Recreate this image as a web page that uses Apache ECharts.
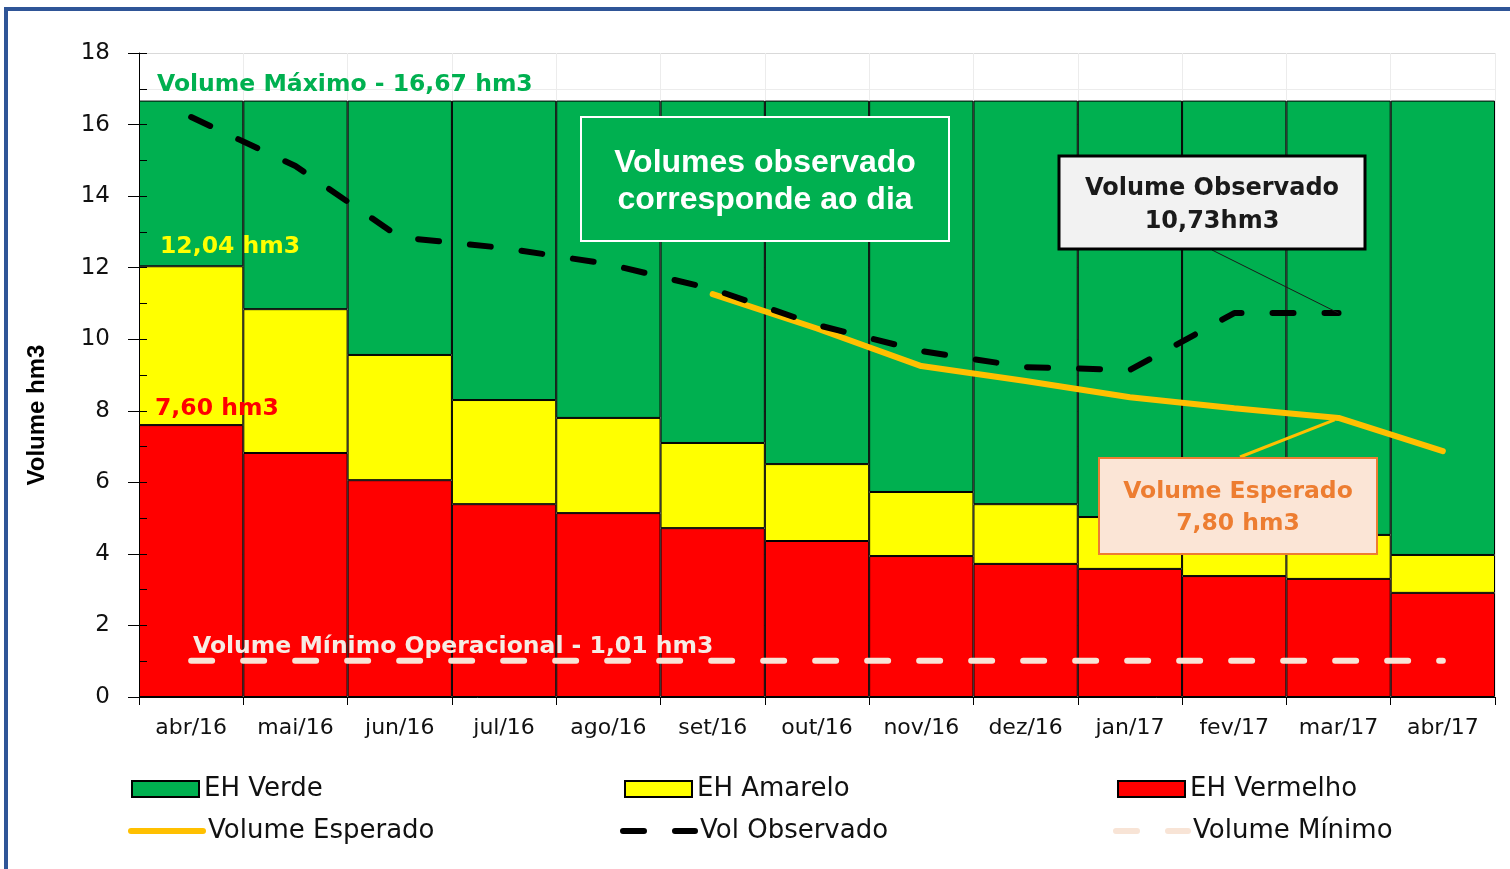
<!DOCTYPE html>
<html>
<head>
<meta charset="utf-8">
<title>Volume hm3</title>
<script src="https://cdn.jsdelivr.net/npm/echarts@6/dist/echarts.min.js"></script>
<style>
  html, body { margin: 0; padding: 0; background: #fff; }
  #main { width: 1510px; height: 869px; }
</style>
</head>
<body>
<div id="main"></div>
<script>
// meses do período
const months = ['abr/16', 'mai/16', 'jun/16', 'jul/16', 'ago/16', 'set/16', 'out/16',
  'nov/16', 'dez/16', 'jan/17', 'fev/17', 'mar/17', 'abr/17'];

// limites das faixas (topo de cada faixa, hm3)
const volumeMaximo = 16.67;
const volumeMinimo = 1.01;
const limiteVermelho = [7.60, 6.82, 6.06, 5.39, 5.14, 4.72, 4.36, 3.94, 3.72, 3.58, 3.38, 3.30, 2.91];
const limiteAmarelo = [12.04, 10.84, 9.56, 8.30, 7.80, 7.10, 6.51, 5.73, 5.39, 5.03, 4.78, 4.53, 3.97];

// volumes
const volObservado = [16.21, 14.84, 12.85, 12.55, 12.10, 11.40, 10.40, 9.67, 9.22, 9.14, 10.73, 10.73, null];
const volEsperado = [null, null, null, null, null, 11.26, 10.30, 9.25, 8.83, 8.38, 8.07, 7.80, 6.87];

// eixo y
const yMin = 0;
const yMax = 18;
const yStep = 2;

const dejavu = '"DejaVu Sans", Verdana, sans-serif';
const tracejado = [21, 31];

// faixas empilhadas
const faixaVermelho = limiteVermelho.slice();
const faixaAmarelo = limiteAmarelo.map((v, i) => +(v - limiteVermelho[i]).toFixed(2));
const faixaVerde = limiteAmarelo.map(v => +(volumeMaximo - v).toFixed(2));
const linhaMinimo = months.map(() => volumeMinimo);

var myChart = echarts.init(document.getElementById('main'));

function legendItem(name, left, top, line) {
  let lg = {
    data: [name],
    left: left,
    top: top,
    padding: 0,
    selectedMode: false,
    itemWidth: line ? 72 : 67,
    itemHeight: 16,
    textStyle: { fontFamily: dejavu, fontSize: 26, color: '#111', lineHeight: 26 }
  };
  if (line) {
    // só a linha, sem o símbolo
    lg.itemStyle = { opacity: 0 };
    lg.lineStyle = Object.assign({ width: 6, cap: 'round' }, line);
  } else {
    lg.icon = 'rect';
  }
  return lg;
}

let options = {
  animation: false,
  grid: { left: 139, right: 15, top: 53, bottom: 172 },
  legend: [
    legendItem('EH Verde', 131, 776),
    legendItem('EH Amarelo', 624, 776),
    legendItem('EH Vermelho', 1117, 776),
    legendItem('Volume Esperado', 128, 818, { type: 'solid' }),
    legendItem('Vol Observado', 620, 818, { type: tracejado }),
    legendItem('Volume Mínimo', 1113, 818, { type: tracejado })
  ],
  xAxis: {
    type: 'category',
    data: months,
    axisLine: { lineStyle: { color: '#000', width: 1 } },
    axisTick: { show: true, length: 8, lineStyle: { color: '#000' } },
    axisLabel: { fontFamily: dejavu, fontSize: 22, color: '#111', margin: 20 },
    splitLine: { show: true, lineStyle: { color: '#ececec', width: 1 } }
  },
  yAxis: [
    {
      type: 'value',
      position: 'left',
      min: yMin,
      max: yMax,
      interval: yStep,
      axisLine: { show: true, lineStyle: { color: '#000' } },
      axisTick: { show: true, length: 11, lineStyle: { color: '#000' } },
      axisLabel: { fontFamily: dejavu, fontSize: 23, color: '#111', margin: 29 },
      splitLine: { show: true, lineStyle: { color: '#d9d9d9' } },
      minorTick: { show: false, splitNumber: 2 },
      minorSplitLine: { show: true, lineStyle: { color: '#ececec' } }
    },
    {
      // ticks secundários internos (por cima das barras)
      type: 'value',
      position: 'left',
      min: yMin,
      max: yMax,
      interval: yStep / 2,
      z: 10,
      axisLine: { show: false },
      axisTick: { show: true, inside: true, length: 8, lineStyle: { color: '#000' } },
      axisLabel: { show: false },
      splitLine: { show: false }
    }
  ],
  series: [
    {
      name: 'EH Vermelho',
      type: 'bar',
      stack: 'eh',
      barCategoryGap: '0%',
      data: faixaVermelho,
      itemStyle: { color: '#ff0000', borderColor: '#000', borderWidth: 1 }
    },
    {
      name: 'EH Amarelo',
      type: 'bar',
      stack: 'eh',
      barCategoryGap: '0%',
      data: faixaAmarelo,
      itemStyle: { color: '#ffff00', borderColor: '#000', borderWidth: 1 }
    },
    {
      name: 'EH Verde',
      type: 'bar',
      stack: 'eh',
      barCategoryGap: '0%',
      data: faixaVerde,
      itemStyle: { color: '#00b050', borderColor: '#000', borderWidth: 1 }
    },
    {
      name: 'Volume Mínimo',
      type: 'line',
      data: linhaMinimo,
      symbol: 'none',
      z: 3,
      itemStyle: { color: '#f8e4d6' },
      lineStyle: { color: '#f8e4d6', width: 6, type: tracejado, cap: 'round' }
    },
    {
      name: 'Volume Esperado',
      type: 'line',
      data: volEsperado,
      symbol: 'none',
      z: 4,
      itemStyle: { color: '#ffc000' },
      lineStyle: { color: '#ffc000', width: 6, cap: 'round' }
    },
    {
      name: 'Vol Observado',
      type: 'line',
      data: volObservado,
      symbol: 'none',
      z: 5,
      itemStyle: { color: '#000' },
      lineStyle: { color: '#000', width: 6, type: tracejado, cap: 'round' }
    }
  ]
};
myChart.setOption(options);

// anotações (caixas e rótulos)
function txt(text, x, y, fill, font, align, lineHeight) {
  return {
    type: 'text', z: 21,
    style: {
      text: text, x: x, y: y, fill: fill, font: font,
      align: align || 'left', textAlign: align || 'left',
      verticalAlign: 'middle', textVerticalAlign: 'middle',
      lineHeight: lineHeight || 24
    }
  };
}

const pObs = myChart.convertToPixel({ xAxisIndex: 0, yAxisIndex: 0 }, [11, volObservado[11]]);
const pEsp = myChart.convertToPixel({ xAxisIndex: 0, yAxisIndex: 0 }, [11, volEsperado[11]]);

myChart.setOption({
  graphic: [
    // moldura azul
    { type: 'rect', z: 30, shape: { x: 6, y: 9, width: 1560, height: 920 }, style: { fill: 'none', stroke: '#2f5597', lineWidth: 4 } },

    // nome do eixo y
    {
      type: 'text', z: 21, x: 37, y: 415, rotation: Math.PI / 2,
      style: {
        text: 'Volume hm3', fill: '#000', font: 'bold 24px "Liberation Sans"',
        align: 'center', textAlign: 'center', verticalAlign: 'middle', textVerticalAlign: 'middle'
      }
    },

    txt('Volume Máximo - 16,67 hm3', 157, 85, '#00b050', 'bold 23.5px "DejaVu Sans"'),
    txt('12,04 hm3', 160, 247, '#ffff00', 'bold 23.5px "DejaVu Sans"'),
    txt('7,60 hm3', 155, 409, '#ff0000', 'bold 23.5px "DejaVu Sans"'),
    txt('Volume Mínimo Operacional - 1,01 hm3', 193, 647, '#f6ece4', 'bold 23.5px "DejaVu Sans"'),

    { type: 'rect', z: 20, shape: { x: 581, y: 117, width: 368, height: 124 }, style: { fill: '#00b050', stroke: '#fff', lineWidth: 2 } },
    txt('Volumes observado\ncorresponde ao dia', 765, 181.5, '#fff', 'bold 32px "Liberation Sans"', 'center', 37),

    { type: 'line', z: 10, shape: { x1: 1212, y1: 250, x2: pObs[0], y2: pObs[1] }, style: { stroke: '#1a1a1a', lineWidth: 1 } },
    { type: 'rect', z: 20, shape: { x: 1059, y: 156, width: 306, height: 93 }, style: { fill: '#f2f2f2', stroke: '#000', lineWidth: 3 } },
    txt('Volume Observado\n10,73hm3', 1212, 205, '#1a1a1a', 'bold 24px "DejaVu Sans"', 'center', 33),

    { type: 'line', z: 10, shape: { x1: 1240, y1: 457, x2: pEsp[0] - 4, y2: pEsp[1] + 2 }, style: { stroke: '#ffc000', lineWidth: 3 } },
    { type: 'rect', z: 20, shape: { x: 1099, y: 458, width: 278, height: 96 }, style: { fill: '#fbe5d6', stroke: '#ed7d31', lineWidth: 2 } },
    txt('Volume Esperado\n7,80 hm3', 1238, 508, '#ed7d31', 'bold 23.5px "DejaVu Sans"', 'center', 32)
  ]
});
</script>
</body>
</html>
